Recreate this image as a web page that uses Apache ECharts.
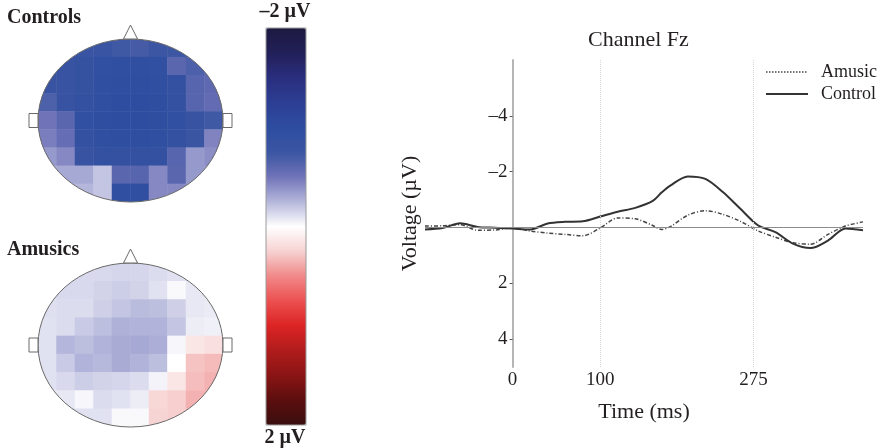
<!DOCTYPE html>
<html>
<head>
<meta charset="utf-8">
<script src="https://cdn.jsdelivr.net/npm/echarts@6/dist/echarts.min.js"></script>
<style>
  html, body { margin: 0; padding: 0; background: #fff; }
  #main { width: 886px; height: 448px; }
</style>
</head>
<body>
<div id="main"></div>
<script>
// 头皮地形图：9 行 x 10 列 (µV)，负值为蓝色
const controlsMap = [
  [-0.78, -0.78, -0.78, -0.78, -0.72, -0.70, -0.74, -0.74, -0.70, -0.70],
  [-0.80, -0.80, -0.85, -0.92, -0.95, -0.95, -0.92, -0.60, -0.66, -0.62],
  [-0.80, -0.82, -0.85, -0.95, -0.98, -0.98, -0.95, -0.88, -0.62, -0.58],
  [-0.66, -0.82, -0.88, -0.95, -1.00, -1.00, -0.98, -0.90, -0.62, -0.56],
  [-0.50, -0.60, -0.92, -0.98, -1.00, -1.00, -0.98, -0.92, -0.80, -0.72],
  [-0.46, -0.55, -0.88, -0.95, -0.98, -0.98, -0.95, -0.90, -0.75, -0.44],
  [-0.36, -0.42, -0.82, -0.88, -0.90, -0.90, -0.88, -0.62, -0.36, -0.40],
  [-0.30, -0.30, -0.30, -0.20, -0.60, -0.62, -0.42, -0.60, -0.36, -0.36],
  [-0.25, -0.25, -0.25, -0.20, -0.95, -0.95, -0.42, -0.42, -0.36, -0.36]
]
const amusicsMap = [
  [-0.12, -0.12, -0.13, -0.13, -0.14, -0.14, -0.12, -0.10, -0.10, -0.10],
  [-0.12, -0.13, -0.13, -0.15, -0.17, -0.15, -0.10, -0.02, -0.08, -0.08],
  [-0.11, -0.12, -0.12, -0.16, -0.20, -0.23, -0.22, -0.16, -0.08, -0.07],
  [-0.10, -0.12, -0.18, -0.22, -0.27, -0.26, -0.26, -0.20, -0.06, -0.05],
  [-0.10, -0.25, -0.22, -0.26, -0.29, -0.30, -0.28, -0.03, 0.14, 0.18],
  [-0.10, -0.18, -0.26, -0.24, -0.29, -0.26, -0.22, 0.00, 0.30, 0.33],
  [-0.10, -0.13, -0.17, -0.15, -0.14, -0.12, -0.04, 0.14, 0.32, 0.36],
  [-0.08, -0.08, -0.03, -0.12, -0.10, -0.06, 0.22, 0.26, 0.36, 0.36],
  [-0.10, -0.10, -0.10, -0.10, -0.02, -0.02, 0.24, 0.26, 0.30, 0.30]
]
// 色条，从 -2 µV 到 2 µV
const barColors = ['#1c1a40', '#221f58', '#2a2e7e', '#2c3e94', '#2e4da0', '#3a55a2', '#7073b8', '#b4b6db', '#ffffff',
  '#f7d2d2', '#f18888', '#ec5050', '#dc2424', '#b01c1c', '#8a1414', '#5c0e0e', '#3a0e0e']

// Fz 通道波形
const timeMs = [-100, -80, -60, -40, -20, 0, 20, 40, 60, 80, 100, 120, 140, 160, 170, 180, 200, 220, 240, 260, 280, 300, 320, 340, 360, 380, 400]
const amusicUv = [-0.05, -0.06, -0.10, 0.10, 0.09, 0.01, 0.13, 0.20, 0.25, 0.30, 0.02, -0.34, -0.31, -0.07, 0.07, -0.03, -0.44, -0.60, -0.47, -0.22, 0.12, 0.35, 0.55, 0.60, 0.25, -0.05, -0.20]
const controlUv = [0.07, 0.02, -0.15, -0.02, 0.01, 0.04, 0.07, -0.14, -0.20, -0.22, -0.39, -0.56, -0.70, -0.95, -1.25, -1.50, -1.83, -1.74, -1.27, -0.67, -0.08, 0.17, 0.58, 0.74, 0.47, 0.04, 0.10]
const yTicks = [-4, -2, 2, 4]
const xTicks = [0, 100, 275]

const serif = '"Liberation Serif", "DejaVu Serif", serif'
const ink = '#231f20'
const headLine = '#6a6a6a'

function toCells(map) {
  const cells = []
  map.forEach((row, r) => {
    row.forEach((v, c) => cells.push([c, r, v]))
  })
  return cells
}
const cols = controlsMap[0].map((_, i) => i)
const rows = controlsMap.map((_, i) => i)

// 头部轮廓（椭圆遮罩 + 鼻子 + 耳朵）
function head(cx, cy, rx, ry) {
  return [
    { type: 'ellipse', z: 50, silent: true, shape: { cx: cx, cy: cy, rx: rx + 20, ry: ry + 20 },
      style: { fill: 'none', stroke: '#ffffff', lineWidth: 40 } },
    { type: 'ellipse', z: 60, silent: true, shape: { cx: cx, cy: cy, rx: rx, ry: ry },
      style: { fill: 'none', stroke: headLine, lineWidth: 1 } },
    { type: 'polygon', z: 60, silent: true,
      shape: { points: [[cx - 7, cy - ry], [cx, cy - ry - 14], [cx + 7, cy - ry]] },
      style: { fill: '#fff', stroke: headLine, lineWidth: 1 } },
    { type: 'rect', z: 60, silent: true, shape: { x: cx - rx - 9, y: cy - 7, width: 9, height: 14 },
      style: { fill: '#fff', stroke: headLine, lineWidth: 1 } },
    { type: 'rect', z: 60, silent: true, shape: { x: cx + rx, y: cy - 7, width: 9, height: 14 },
      style: { fill: '#fff', stroke: headLine, lineWidth: 1 } }
  ]
}
function label(text, x, y, align) {
  return { type: 'text', z: 70, silent: true,
    style: { text: text, x: x, y: y, font: 'bold 20px ' + serif, fill: ink, align: align, verticalAlign: 'middle' } }
}

const hiddenCat = (data) => ({ type: 'category', data: data, show: false })

// 线图网格：-100 ~ 400 ms，0 ms 处放 Y 轴
const lineGrid = { left: 425, top: 60, width: 438, height: 307 }
const zeroOffset = lineGrid.width * 100 / 500

const chart = echarts.init(document.getElementById('main'))
chart.setOption({
  animation: false,
  textStyle: { fontFamily: serif, color: ink },
  title: {
    text: 'Channel Fz', left: 588, top: 29, padding: 0,
    textStyle: { fontFamily: serif, fontSize: 22, fontWeight: 'normal', color: ink }
  },
  legend: {
    orient: 'vertical', left: 765, top: 63, padding: 0, itemGap: 4,
    itemWidth: 42, itemHeight: 12,
    itemStyle: { opacity: 0 },
    textStyle: { fontFamily: serif, fontSize: 18, color: ink, padding: [0, 0, 0, 8] },
    data: [
      { name: 'Amusic', lineStyle: { type: 'dotted', width: 1.5 } },
      { name: 'Control' }
    ]
  },
  grid: [
    { left: 38, top: 39, width: 185, height: 163 },
    { left: 38, top: 263, width: 185, height: 164 },
    lineGrid
  ],
  xAxis: [
    { gridIndex: 0, ...hiddenCat(cols) },
    { gridIndex: 1, ...hiddenCat(cols) },
    {
      gridIndex: 2, type: 'value', min: -100, max: 400,
      name: 'Time (ms)', nameLocation: 'middle', nameGap: 34,
      nameTextStyle: { fontFamily: serif, fontSize: 22, color: ink },
      axisLine: { show: false, onZero: false },
      axisTick: { show: false },
      splitLine: { show: false },
      axisLabel: { customValues: xTicks, fontFamily: serif, fontSize: 19, color: ink, margin: 4 }
    }
  ],
  yAxis: [
    { gridIndex: 0, inverse: true, ...hiddenCat(rows) },
    { gridIndex: 1, inverse: true, ...hiddenCat(rows) },
    {
      gridIndex: 2, type: 'value', inverse: true, min: -6, max: 5,
      offset: -zeroOffset,
      name: 'Voltage (µV)', nameLocation: 'middle', nameGap: 91,
      nameTextStyle: { fontFamily: serif, fontSize: 22, color: ink },
      axisLine: { show: true, onZero: false, lineStyle: { color: '#b5b5b5', width: 2 } },
      axisTick: { show: true, customValues: yTicks, length: 3, lineStyle: { color: '#555' } },
      splitLine: { show: false },
      axisLabel: {
        customValues: yTicks, fontFamily: serif, fontSize: 19, color: ink, margin: 5,
        formatter: v => (v < 0 ? '\u2013' + (-v) : '' + v)
      }
    }
  ],
  visualMap: {
    type: 'continuous', seriesIndex: [0, 1], min: -2, max: 2, inverse: true,
    calculable: false, hoverLink: false,
    left: 251, top: 13, itemWidth: 40, itemHeight: 397,
    inRange: { color: barColors }
  },
  series: [
    { type: 'heatmap', xAxisIndex: 0, yAxisIndex: 0, data: toCells(controlsMap),
      itemStyle: { borderWidth: 0 }, emphasis: { disabled: true } },
    { type: 'heatmap', xAxisIndex: 1, yAxisIndex: 1, data: toCells(amusicsMap),
      itemStyle: { borderWidth: 0 }, emphasis: { disabled: true } },
    {
      name: 'Amusic', type: 'line', xAxisIndex: 2, yAxisIndex: 2, smooth: 0.3, symbol: 'none',
      data: timeMs.map((t, i) => [t, amusicUv[i]]),
      lineStyle: { color: '#444', width: 1.5, type: [4, 2, 1, 2] },
      itemStyle: { color: '#444' },
      markLine: {
        silent: true, symbol: ['none', 'none'], label: { show: false },
        data: [
          { yAxis: 0, lineStyle: { color: '#8c8c8c', width: 1, type: 'solid' } },
          { xAxis: 100, lineStyle: { color: '#d6d6d6', width: 1, type: 'dotted' } },
          { xAxis: 275, lineStyle: { color: '#d6d6d6', width: 1, type: 'dotted' } }
        ]
      }
    },
    {
      name: 'Control', type: 'line', xAxisIndex: 2, yAxisIndex: 2, smooth: 0.3, symbol: 'none',
      data: timeMs.map((t, i) => [t, controlUv[i]]),
      lineStyle: { color: '#333', width: 2 },
      itemStyle: { color: '#333' }
    }
  ],
  graphic: [
    ...head(130.5, 120.5, 92.5, 81.5),
    ...head(130.5, 345, 92.5, 82),
    label('Controls', 7, 18, 'left'),
    label('Amusics', 7, 250, 'left'),
    label('\u20132 \u00b5V', 285, 12, 'center'),
    label('2 \u00b5V', 285, 438, 'center'),
    { type: 'rect', z: 60, silent: true, shape: { x: 266, y: 28, width: 40, height: 397 },
      style: { fill: 'none', stroke: '#9a9a9a', lineWidth: 1 } }
  ]
})
</script>
</body>
</html>
